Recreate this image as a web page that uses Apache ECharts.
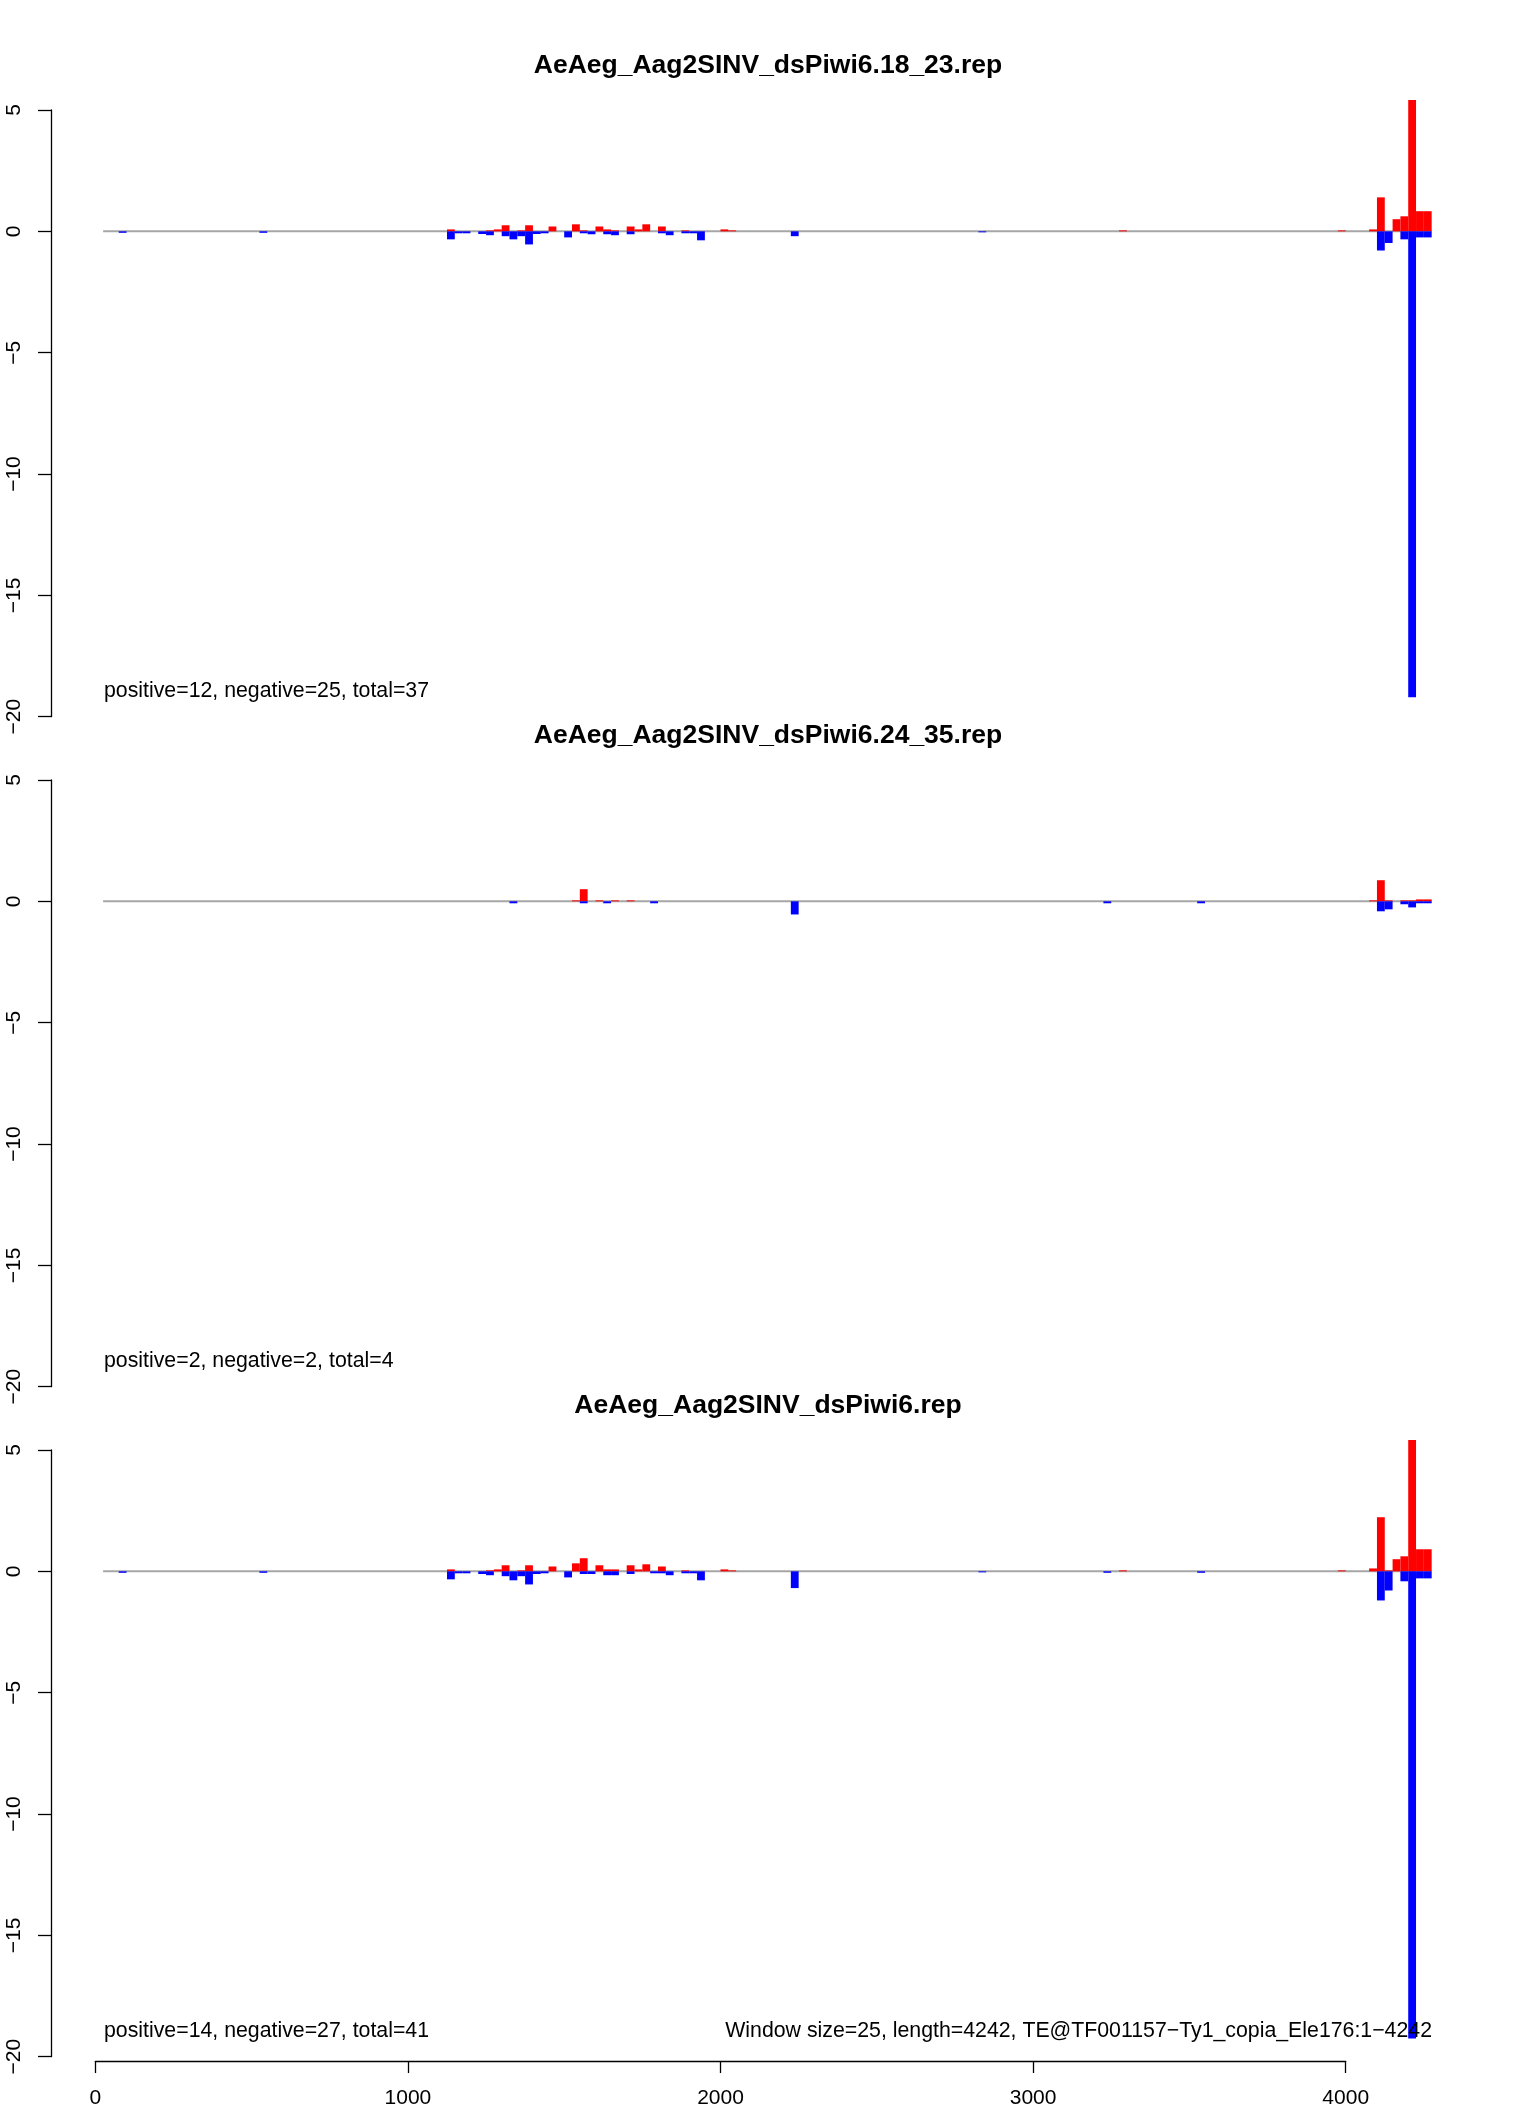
<!DOCTYPE html>
<html>
<head>
<meta charset="utf-8">
<script src="https://cdn.jsdelivr.net/npm/echarts@6/dist/echarts.min.js"></script>
<style>
html,body{margin:0;padding:0;background:#fff;}
#c{width:1536px;height:2112px;}
</style>
</head>
<body>
<div id="c"></div>
<script>
// ---------- data (window start position, value) ----------
const WINDOW = 25;
const LENGTH = 4242;

const titles = [
  "AeAeg_Aag2SINV_dsPiwi6.18_23.rep",
  "AeAeg_Aag2SINV_dsPiwi6.24_35.rep",
  "AeAeg_Aag2SINV_dsPiwi6.rep"
];
const countLabels = [
  "positive=12, negative=25, total=37",
  "positive=2, negative=2, total=4",
  "positive=14, negative=27, total=41"
];
const footerLabel = "Window size=25, length=4242, TE@TF001157\u2212Ty1_copia_Ele176:1\u22124242";

// panel 1: 18_23
const pos1823 = [
  [1125,0.08],[1250,0.04],[1275,0.08],[1300,0.25],[1350,0.04],[1375,0.25],[1450,0.2],
  [1525,0.29],[1550,0.04],[1600,0.2],[1625,0.08],[1650,0.04],[1700,0.2],[1725,0.08],
  [1750,0.29],[1800,0.2],[1875,0.04],[2000,0.08],[2025,0.04],[3275,0.04],[3975,0.04],
  [4075,0.08],[4100,1.4],[4150,0.5],[4175,0.62],[4200,5.41],[4225,0.83],[4250,0.83]
];
const neg1823 = [
  [75,-0.06],[525,-0.06],[1125,-0.33],[1150,-0.08],[1175,-0.08],[1225,-0.11],[1250,-0.16],
  [1300,-0.2],[1325,-0.33],[1350,-0.2],[1375,-0.54],[1400,-0.11],[1425,-0.08],[1500,-0.25],
  [1550,-0.08],[1575,-0.12],[1625,-0.12],[1650,-0.16],[1700,-0.12],[1800,-0.08],[1825,-0.16],
  [1875,-0.08],[1900,-0.08],[1925,-0.37],[2225,-0.2],[2825,-0.04],
  [4100,-0.79],[4125,-0.48],[4175,-0.33],[4200,-19.2],[4225,-0.25],[4250,-0.25]
];

// panel 2: 24_35
const pos2435 = [
  [1525,0.04],[1550,0.5],[1600,0.04],[1650,0.04],[1700,0.04],
  [4075,0.04],[4100,0.87],[4125,0.04],[4175,0.04],[4200,0.04],[4225,0.08],[4250,0.08]
];
const neg2435 = [
  [1325,-0.08],[1550,-0.08],[1625,-0.08],[1775,-0.08],[2225,-0.54],[3225,-0.08],[3525,-0.08],
  [4100,-0.41],[4125,-0.33],[4175,-0.12],[4200,-0.25],[4225,-0.08],[4250,-0.08]
];

// panel 3: all
const posAll = [
  [1125,0.08],[1250,0.04],[1275,0.08],[1300,0.25],[1350,0.04],[1375,0.25],[1450,0.2],
  [1525,0.33],[1550,0.54],[1600,0.25],[1625,0.08],[1650,0.08],[1700,0.25],[1725,0.08],
  [1750,0.29],[1800,0.2],[1875,0.04],[2000,0.08],[2025,0.04],[3275,0.04],[3975,0.04],
  [4075,0.12],[4100,2.23],[4125,0.04],[4150,0.5],[4175,0.62],[4200,5.41],[4225,0.91],[4250,0.91]
];
const negAll = [
  [75,-0.06],[525,-0.06],[1125,-0.33],[1150,-0.08],[1175,-0.08],[1225,-0.11],[1250,-0.16],
  [1300,-0.2],[1325,-0.37],[1350,-0.2],[1375,-0.54],[1400,-0.11],[1425,-0.08],[1500,-0.25],
  [1550,-0.11],[1575,-0.11],[1625,-0.16],[1650,-0.16],[1700,-0.11],[1775,-0.08],[1800,-0.08],
  [1825,-0.16],[1875,-0.08],[1900,-0.08],[1925,-0.37],[2225,-0.69],[2825,-0.04],[3225,-0.06],
  [3525,-0.06],[4100,-1.2],[4125,-0.79],[4175,-0.41],[4200,-19.25],[4225,-0.29],[4250,-0.29]
];

const baselineSpan = [[25,0],[4275,0]];
const yTickMin = -20, yTickMax = 5, yTickStep = 5;
const xTickMin = 0, xTickMax = 4000, xTickStep = 1000;

// ---------- layout ----------
const FONT = "'Liberation Sans', Arial, Helvetica, sans-serif";
const PX_PER_UNIT = 0.3126;
const X0 = 95.3;            // pixel of x = 0
const XMAX_VIEW = 4300;
const PANEL_TOP = 110, PANEL_H = 606.7, PANEL_STEP = 670;

const panels = [
  {pos: pos1823, neg: neg1823},
  {pos: pos2435, neg: neg2435},
  {pos: posAll,  neg: negAll}
];

function renderBar(params, api) {
  const x0 = api.value(0), v = api.value(1);
  const a = api.coord([x0, 0]);
  const b = api.coord([x0 + WINDOW, v]);
  return {
    type: 'rect',
    shape: {x: a[0], y: Math.min(a[1], b[1]), width: b[0] - a[0], height: Math.abs(b[1] - a[1])},
    style: {fill: api.visual('color')}
  };
}

const grid = [], xAxis = [], yAxis = [], series = [], graphic = [];

panels.forEach((p, i) => {
  const top = PANEL_TOP + i * PANEL_STEP;
  grid.push({left: X0, top: top, width: XMAX_VIEW * PX_PER_UNIT, height: PANEL_H, containLabel: false});
  xAxis.push({type: 'value', gridIndex: i, min: 0, max: XMAX_VIEW, show: false});
  yAxis.push({
    type: 'value', gridIndex: i, min: yTickMin, max: yTickMax, interval: yTickStep,
    position: 'left', offset: X0 - 51,
    axisLine: {show: true, onZero: false, lineStyle: {color: '#000', width: 1.3}},
    axisTick: {show: true, length: 13, lineStyle: {color: '#000', width: 1.3}},
    splitLine: {show: false},
    axisLabel: {
      rotate: 90, margin: 26, fontSize: 21, color: '#000', fontFamily: FONT,
      formatter: v => String(v).replace('-', '\u2212')
    }
  });
  series.push({
    type: 'line', xAxisIndex: i, yAxisIndex: i, data: baselineSpan,
    symbol: 'none', silent: true, z: 1,
    lineStyle: {color: '#a6a6a6', width: 2}
  });
  series.push({
    type: 'custom', xAxisIndex: i, yAxisIndex: i, data: p.pos, clip: false, z: 3,
    itemStyle: {color: '#ff0000'}, renderItem: renderBar, silent: true
  });
  series.push({
    type: 'custom', xAxisIndex: i, yAxisIndex: i, data: p.neg, clip: false, z: 3,
    itemStyle: {color: '#0000ff'}, renderItem: renderBar, silent: true
  });
  graphic.push({
    type: 'text', x: 768, y: 66 + i * PANEL_STEP, z: 10,
    style: {text: titles[i], font: 'bold 26.5px ' + FONT, fill: '#000', align: 'center', verticalAlign: 'middle'}
  });
  graphic.push({
    type: 'text', x: 104, y: 691.5 + i * PANEL_STEP, z: 10,
    style: {text: countLabels[i], font: '21.3px ' + FONT, fill: '#000', align: 'left', verticalAlign: 'middle'}
  });
});

graphic.push({
  type: 'text', x: 1432, y: 691.5 + 2 * PANEL_STEP, z: 10,
  style: {text: footerLabel, font: '21.3px ' + FONT, fill: '#000', align: 'right', verticalAlign: 'middle'}
});

// bottom x axis (drawn only from 0 to 4000 like the original)
grid.push({left: X0, top: 2060, width: (xTickMax - xTickMin) * PX_PER_UNIT, height: 1});
xAxis.push({
  type: 'value', gridIndex: 3, min: xTickMin, max: xTickMax, interval: xTickStep, position: 'bottom',
  axisLine: {show: true, onZero: false, lineStyle: {color: '#000', width: 1.3}},
  axisTick: {show: true, length: 12, lineStyle: {color: '#000', width: 1.3}},
  splitLine: {show: false},
  axisLabel: {margin: 27, fontSize: 21, color: '#000', fontFamily: FONT, formatter: v => String(v)}
});
yAxis.push({type: 'value', gridIndex: 3, show: false, min: 0, max: 1});

const chart = echarts.init(document.getElementById('c'), null, {renderer: 'canvas'});
chart.setOption({
  animation: false,
  backgroundColor: '#fff',
  grid, xAxis, yAxis, series, graphic
});
</script>
</body>
</html>
